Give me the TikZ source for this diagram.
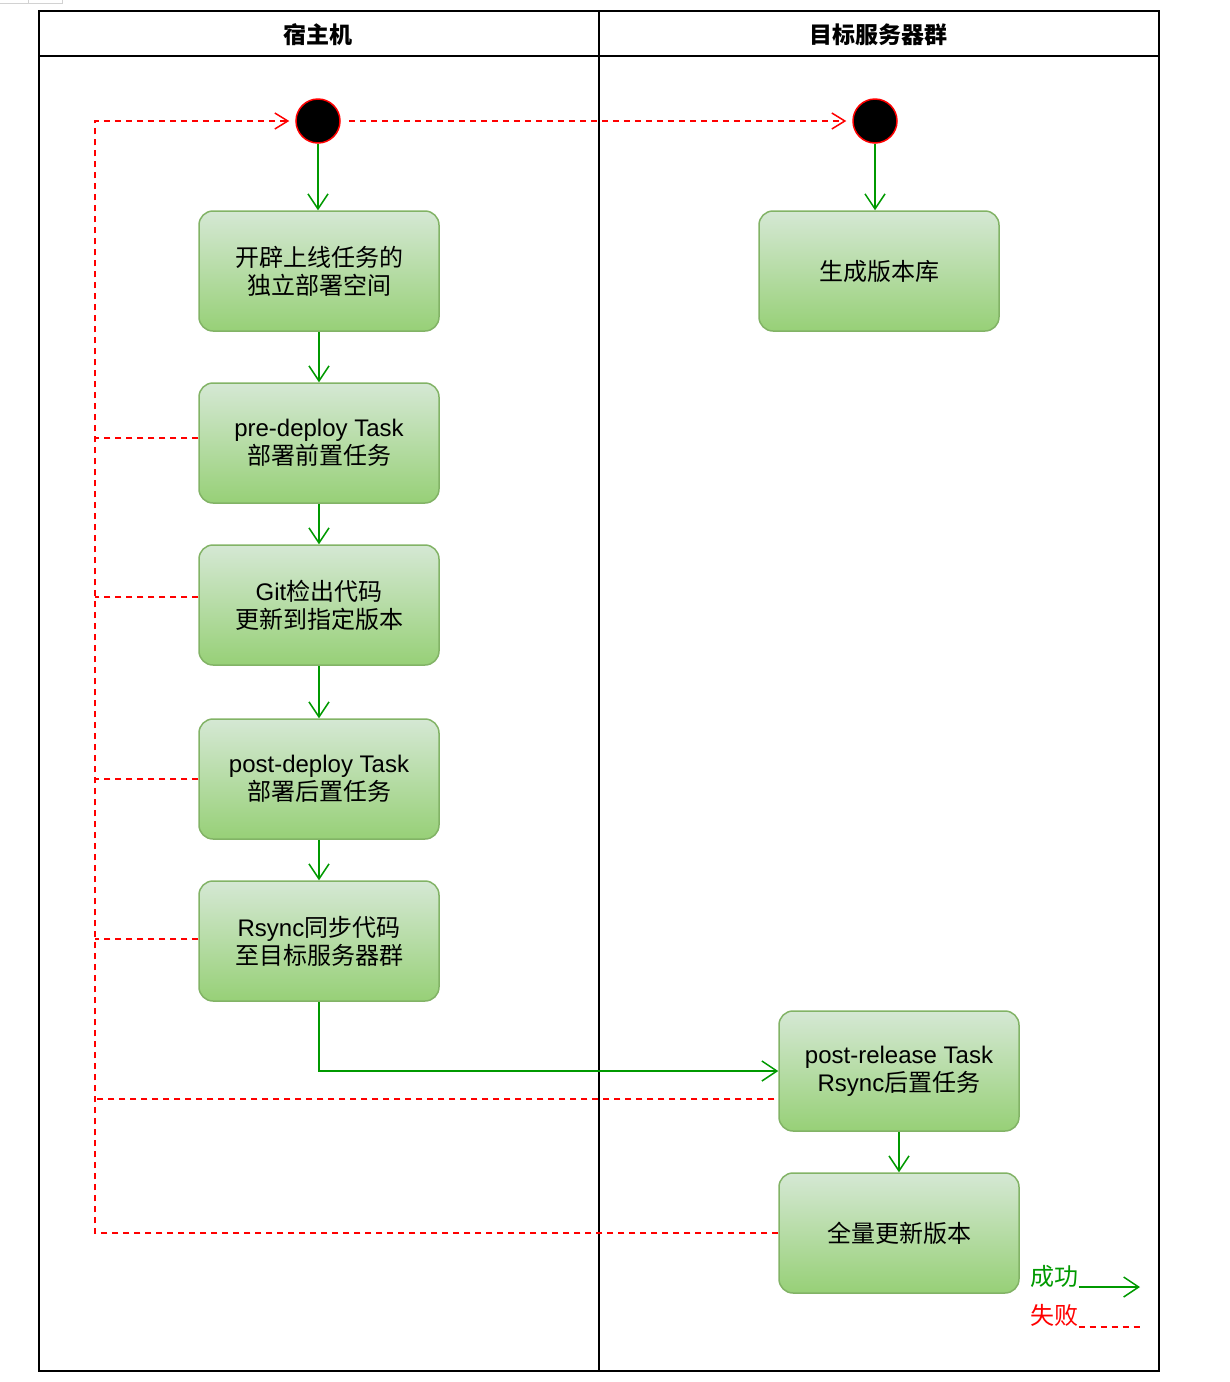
\documentclass[tikz,border=0pt]{standalone}
\usepackage{fontspec}
\setmainfont{Liberation Sans}
\newfontfamily\cjk{Noto Sans CJK SC}
\usetikzlibrary{positioning}
\usetikzlibrary{arrows.meta}
\definecolor{okgreen}{HTML}{009900}
\definecolor{failred}{HTML}{FF0000}
\definecolor{boxtop}{HTML}{D5E8D4}
\definecolor{boxbot}{HTML}{97D077}
\definecolor{boxline}{HTML}{82B366}
\tikzset{
  task/.style={draw=boxline, line width=1.5pt, rounded corners=14pt, top color=boxtop, bottom color=boxbot,
    minimum width=240pt, minimum height=120pt, align=center, font=\fontsize{24}{28}\selectfont},
  startdot/.style={circle, draw=failred, fill=black, line width=1.5pt, minimum size=44pt, inner sep=0pt},
  ok/.style={draw=okgreen, line width=1.5pt, -{Straight Barb[length=15pt,width=20pt]}},
  fail/.style={draw=failred, line width=1.5pt, dash pattern=on 6pt off 5pt},
  failarrow/.style={fail, -{Straight Barb[length=13pt,width=16pt]}}
}

\begin{document}
\begin{tikzpicture}[x=1pt,y=-1pt]
\useasboundingbox (0,0) rectangle (1230,1382);
%frame
\draw[gray!35] (0,3) -- (62,3) -- (62,0);
\draw[gray!35] (28,0) -- (28,3);
\draw[black, line width=2pt] (39,11) rectangle (1159,1371);
\draw[black, line width=2pt] (39,56) -- (1159,56);
\draw[black, line width=2pt] (599,11) -- (599,1371);
\node[font=\cjk\bfseries\fontsize{23}{26}\selectfont] (hostlane) at (318,35) {宿主机};
\node[font=\cjk\bfseries\fontsize{23}{26}\selectfont] (serverlane) at (878,35) {目标服务器群};

%start
\node[startdot] (startL) at (318,121) {};
\node[startdot] (startR) at (875,121) {};

%host tasks
\node[task] (space) at (319,271) {\cjk 开辟上线任务的\\\cjk 独立部署空间};
\node[task] (predeploy) at (319,443) {pre-deploy Task\\\cjk 部署前置任务};
\node[task] (gitcheck) at (319,605) {Git{\cjk 检出代码}\\\cjk 更新到指定版本};
\node[task] (postdeploy) at (319,779) {post-deploy Task\\\cjk 部署后置任务};
\node[task] (rsync) at (319,941) {Rsync{\cjk 同步代码}\\\cjk 至目标服务器群};

%server tasks
\node[task] (repo) at (879,271) {\cjk 生成版本库};
\node[task] (postrelease) at (899,1071) {post-release Task\\Rsync{\cjk 后置任务}};
\node[task] (fullupdate) at (899,1233) {\cjk 全量更新版本};

%success
\draw[ok] (startL) -- (startL |- space.north);
\draw[ok] (space) -- (predeploy);
\draw[ok] (predeploy) -- (gitcheck);
\draw[ok] (gitcheck) -- (postdeploy);
\draw[ok] (postdeploy) -- (rsync);
\draw[ok] (rsync.south) |- (postrelease.west);
\draw[ok] (postrelease) -- (fullupdate);
\draw[ok] (startR) -- (startR |- repo.north);

%failure
\coordinate (trunktop) at (95,121);
\coordinate (trunkbot) at (95,1233);
\draw[failarrow] (fullupdate.west) -- (trunkbot) -- (trunktop) -- ([xshift=-6pt]startL.west);
\draw[fail] ([yshift=5pt]predeploy.west) -- ([yshift=5pt]predeploy.west -| trunktop);
\draw[fail] ([yshift=8pt]gitcheck.west) -- ([yshift=8pt]gitcheck.west -| trunktop);
\draw[fail] (postdeploy.west) -- (postdeploy.west -| trunktop);
\draw[fail] ([yshift=2pt]rsync.west) -- ([yshift=2pt]rsync.west -| trunktop);
\draw[fail] ([xshift=-4pt,yshift=-28pt]postrelease.west) -- ([yshift=-28pt]postrelease.west -| trunktop);
\draw[failarrow] ([xshift=8pt]startL.east) -- ([xshift=-6pt]startR.west);

%legend
\node[font=\cjk\fontsize{24}{26}\selectfont, text=okgreen] (legok) at (1054,1276) {成功};
\node[font=\cjk\fontsize{24}{26}\selectfont, text=failred] (legfail) at (1054,1315) {失败};
\coordinate (legokend) at (1140,1287);
\coordinate (legfailend) at (1143,1327);
\draw[ok] ([xshift=-3pt]legok.east |- legokend) -- (legokend);
\draw[fail] ([xshift=-3pt]legfail.east |- legfailend) -- (legfailend);
\end{tikzpicture}
\end{document}
